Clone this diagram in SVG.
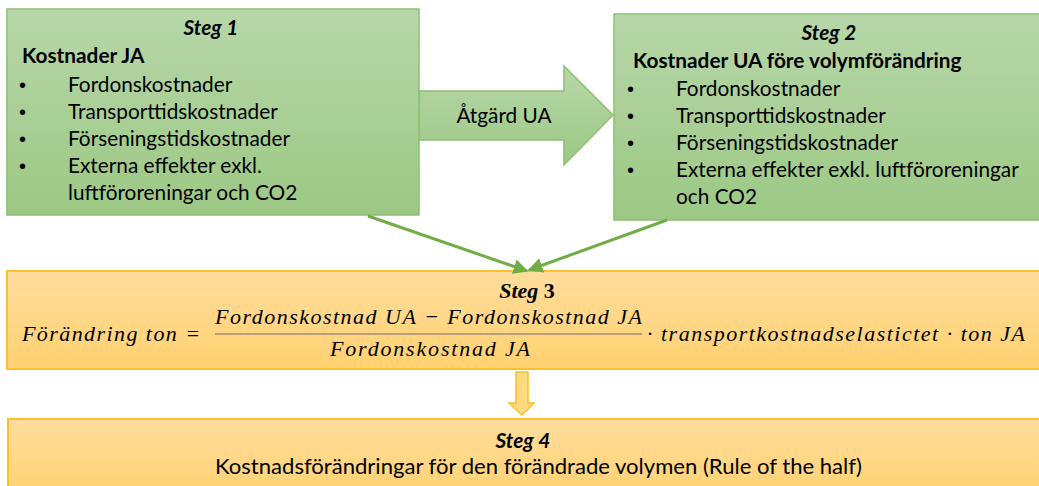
<svg xmlns="http://www.w3.org/2000/svg" width="1039" height="486" viewBox="0 0 1039 486">
<defs>
  <linearGradient id="gGreen" x1="0" y1="0" x2="0" y2="1">
    <stop offset="0" stop-color="#b7d7a9"/>
    <stop offset="1" stop-color="#9cc884"/>
  </linearGradient>
  <linearGradient id="gOrange" x1="0" y1="0" x2="0" y2="1">
    <stop offset="0" stop-color="#ffdd9d"/>
    <stop offset="1" stop-color="#ffd170"/>
  </linearGradient>
  <marker id="ah" viewBox="0 0 10 10" refX="9" refY="5" markerWidth="5" markerHeight="5" orient="auto" markerUnits="strokeWidth">
    <path d="M0,0 L10,5 L0,10 z" fill="#70ad47"/>
  </marker>
  <style>
    .gbox { fill: url(#gGreen); stroke: #8dbf72; stroke-width: 1.5; }
    .obox { fill: url(#gOrange); stroke: #fbc02d; stroke-width: 2; }
    .t { font-family: Lato, "Open Sans", "Liberation Sans", sans-serif; font-size: 20.8px; fill: #000; }
    .bul { font-family: "Liberation Sans", sans-serif; font-size: 20px; fill: #000; }
    .b { font-weight: bold; }
    .bi { font-weight: bold; font-style: italic; }
    .m { font-family: "Liberation Serif", "DejaVu Serif", serif; font-style: italic; font-size: 22px; fill: #000; }
    .conn { stroke: #70ad47; stroke-width: 3; fill: none; }
  </style>
</defs>

<g id="arrow-atgard">
  <polygon class="gbox" points="419,91 564,91 564,66 613,115 564,165 564,140 419,140"/>
  <text class="t" x="504" y="123" text-anchor="middle">Åtgärd UA</text>
</g>

<g id="steg1">
  <rect class="gbox" x="7" y="9" width="412" height="206"/>
  <text class="t bi" x="211" y="35" text-anchor="middle">Steg 1</text>
  <text class="t b" x="22" y="63">Kostnader JA</text>
  <text class="bul" x="19" y="92">•</text><text class="t" x="68" y="92">Fordonskostnader</text>
  <text class="bul" x="19" y="119">•</text><text class="t" x="68" y="119">Transporttidskostnader</text>
  <text class="bul" x="19" y="146">•</text><text class="t" x="68" y="146">Förseningstidskostnader</text>
  <text class="bul" x="19" y="173">•</text><text class="t" x="68" y="173">Externa effekter exkl.</text>
  <text class="t" x="68" y="200">luftföroreningar och CO2</text>
</g>

<g id="steg2">
  <rect class="gbox" x="614" y="14" width="432" height="206"/>
  <text class="t bi" x="829" y="40" text-anchor="middle">Steg 2</text>
  <text class="t b" x="633" y="68">Kostnader UA före volymförändring</text>
  <text class="bul" x="627" y="96">•</text><text class="t" x="676" y="96">Fordonskostnader</text>
  <text class="bul" x="627" y="123">•</text><text class="t" x="676" y="123">Transporttidskostnader</text>
  <text class="bul" x="627" y="150">•</text><text class="t" x="676" y="150">Förseningstidskostnader</text>
  <text class="bul" x="627" y="177">•</text><text class="t" x="676" y="177">Externa effekter exkl. luftföroreningar</text>
  <text class="t" x="676" y="204">och CO2</text>
</g>

<g id="steg3">
  <rect class="obox" x="7" y="271" width="1040" height="98"/>
  <text class="m" x="527" y="298" text-anchor="middle" font-weight="bold" font-size="21">Steg <tspan font-style="normal">3</tspan></text>
  <text class="m" x="22" y="341" textLength="178" lengthAdjust="spacing">Förändring ton =</text>
  <text class="m" x="215" y="324" textLength="427" lengthAdjust="spacing">Fordonskostnad UA − Fordonskostnad JA</text>
  <line x1="215" y1="334" x2="642" y2="334" stroke="#a08c78" stroke-width="1.5"/>
  <text class="m" x="330" y="356" textLength="200" lengthAdjust="spacing">Fordonskostnad JA</text>
  <text class="m" x="647" y="341" textLength="378" lengthAdjust="spacing">· transportkostnadselastictet · ton JA</text>
</g>

<g id="steg4">
  <rect class="obox" x="8" y="419" width="1040" height="80"/>
  <text class="t bi" x="523" y="448" text-anchor="middle">Steg 4</text>
  <text class="t" x="215" y="474" textLength="647" lengthAdjust="spacingAndGlyphs">Kostnadsförändringar för den förändrade volymen (Rule of the half)</text>
</g>

<g id="connectors">
  <line class="conn" x1="368" y1="216" x2="527" y2="271" marker-end="url(#ah)"/>
  <line class="conn" x1="667" y1="220" x2="529" y2="270" marker-end="url(#ah)"/>
  <polygon points="516,372 528,372 528,403 534,403 522,415 509,403 516,403" fill="#ffd980" stroke="#fbc02d" stroke-width="1.5"/>
</g>
</svg>
